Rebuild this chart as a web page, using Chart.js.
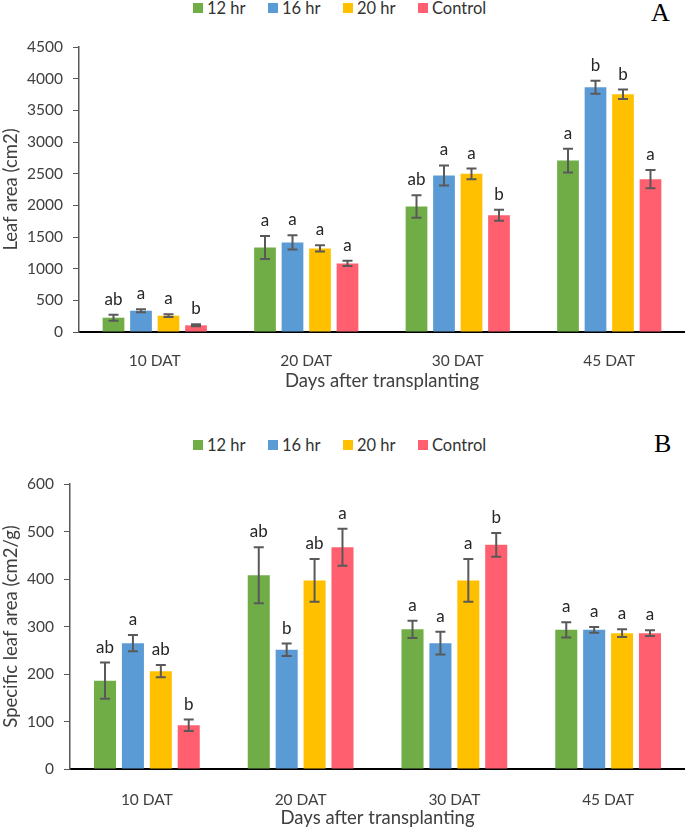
<!DOCTYPE html>
<html lang="en">
<head>
  <meta charset="UTF-8">
  <title>Leaf area and specific leaf area</title>
  <script src="https://cdn.jsdelivr.net/npm/chart.js"></script>
  <style>
    body { margin: 0; background: #fff; font-family: Lato, sans-serif; }
    #page { position: relative; width: 685px; height: 829px; overflow: hidden; }
    .chartBox { position: absolute; left: 0; width: 685px; }
    .legend { position: absolute; left: 0; width: 685px; height: 20px; }
    .legend span { position: absolute; font-size: 16.5px; color: #333; line-height: 20px; }
    .legend i { position: absolute; width: 10px; height: 10px; }
    .panel { position: absolute; font-family: 'Liberation Serif', serif; font-size: 26px; line-height: 26px; color: #000; }
  </style>
</head>
<body>
<div id="page">
  <div class="legend" id="legendA" style="top:-2px"></div>
  <div class="panel" style="left:651px; top:0px">A</div>
  <div class="chartBox" style="top:0; height:394px"><canvas id="chartA"></canvas></div>

  <div class="legend" id="legendB" style="top:435px"></div>
  <div class="panel" style="left:654px; top:431px">B</div>
  <div class="chartBox" style="top:400px; height:429px"><canvas id="chartB"></canvas></div>
</div>

<script>
  // categories and series
  const days = ['10 DAT', '20 DAT', '30 DAT', '45 DAT'];
  const series = ['12 hr', '16 hr', '20 hr', 'Control'];
  const colors = ['#70AD47', '#5B9BD5', '#FFC000', '#FF5F6E'];

  // A: leaf area (cm2)
  const leaf12 = [226, 1335, 1982, 2707];
  const leaf16 = [336, 1414, 2471, 3864];
  const leaf20 = [258, 1320, 2497, 3753];
  const leafCtrl = [105, 1083, 1845, 2413];
  const leafErr12 = [47, 181, 179, 187];
  const leafErr16 = [25, 113, 158, 103];
  const leafErr20 = [21, 50, 84, 74];
  const leafErrCtrl = [16, 42, 87, 145];
  const leafSig12 = ['ab', 'a', 'ab', 'a'];
  const leafSig16 = ['a', 'a', 'a', 'b'];
  const leafSig20 = ['a', 'a', 'a', 'b'];
  const leafSigCtrl = ['b', 'a', 'b', 'a'];

  // B: specific leaf area (cm2/g)
  const sla12 = [186, 408, 294, 293];
  const sla16 = [265, 251, 265, 293];
  const sla20 = [206, 397, 397, 286];
  const slaCtrl = [92, 467, 472, 286];
  const slaErr12 = [38, 59, 18, 16];
  const slaErr16 = [17, 13, 24, 6];
  const slaErr20 = [13, 45, 45, 8];
  const slaErrCtrl = [12, 39, 25, 6];
  const slaSig12 = ['ab', 'ab', 'a', 'a'];
  const slaSig16 = ['a', 'b', 'a', 'a'];
  const slaSig20 = ['ab', 'ab', 'a', 'a'];
  const slaSigCtrl = ['b', 'a', 'b', 'a'];

  function buildLegend(id) {
    const box = document.getElementById(id);
    series.forEach((name, i) => {
      const left = 193 + i * 75;
      const sq = document.createElement('i');
      sq.style.left = left + 'px';
      sq.style.top = '5px';
      sq.style.background = colors[i];
      const txt = document.createElement('span');
      txt.style.left = (left + 14) + 'px';
      txt.style.top = '0px';
      txt.textContent = name;
      box.appendChild(sq);
      box.appendChild(txt);
    });
  }
  buildLegend('legendA');
  buildLegend('legendB');

  // error bars and significance letters drawn on top of the bars
  const errorBarPlugin = {
    id: 'errorBars',
    afterDatasetsDraw(chart) {
      const ctx = chart.ctx;
      const y = chart.scales.y;
      chart.data.datasets.forEach((ds, di) => {
        const meta = chart.getDatasetMeta(di);
        meta.data.forEach((bar, i) => {
          const v = ds.data[i], e = ds.errors[i];
          const yTop = y.getPixelForValue(v + e);
          const yBot = y.getPixelForValue(v - e);
          ctx.save();
          ctx.strokeStyle = '#595959';
          ctx.lineWidth = 2;
          ctx.beginPath();
          ctx.moveTo(bar.x, yTop); ctx.lineTo(bar.x, yBot);
          ctx.moveTo(bar.x - 5, yTop); ctx.lineTo(bar.x + 5, yTop);
          ctx.moveTo(bar.x - 5, yBot); ctx.lineTo(bar.x + 5, yBot);
          ctx.stroke();
          ctx.fillStyle = '#262626';
          ctx.font = '17px Lato';
          ctx.textAlign = 'center';
          ctx.textBaseline = 'alphabetic';
          ctx.fillText(ds.letters[i], bar.x, yTop - 10);
          ctx.restore();
        });
      });
    }
  };

  function makeChart(id, values, errors, letters, yTitle, yMax, step, axisW, axisH, padTop, tickPad, titlePadB) {
    const ctx = document.getElementById(id).getContext('2d');
    return new Chart(ctx, {
      type: 'bar',
      data: {
        labels: days,
        datasets: series.map((name, i) => ({
          label: name,
          data: values[i],
          errors: errors[i],
          letters: letters[i],
          backgroundColor: colors[i],
          categoryPercentage: 0.726,
          barPercentage: 0.79
        }))
      },
      options: {
        responsive: true,
        maintainAspectRatio: false,
        animation: false,
        layout: { padding: { top: padTop, left: 0, right: 0, bottom: 0 } },
        plugins: { legend: { display: false }, tooltip: { enabled: false } },
        scales: {
          x: {
            grid: { display: false },
            border: { display: true, color: '#000', width: 2 },
            ticks: { color: '#404040', font: { family: 'Lato', size: 15.5 }, padding: tickPad },
            title: { display: true, text: 'Days after transplanting', color: '#404040',
                     font: { family: 'Lato', size: 18.5 }, padding: { top: 0, bottom: titlePadB } },
            afterFit: s => { s.height = axisH; }
          },
          y: {
            min: 0, max: yMax,
            grid: { display: true, drawOnChartArea: false, drawTicks: true, tickLength: 6, color: '#595959' },
            border: { display: true, color: '#595959', width: 1.5 },
            ticks: { stepSize: step, color: '#404040', font: { family: 'Lato', size: 15.5 }, padding: 10,
                     callback: v => String(v) },
            title: { display: true, text: yTitle, color: '#404040',
                     font: { family: 'Lato', size: 18.5 }, padding: { top: 0, bottom: 0 } },
            afterFit: s => { s.width = axisW; }
          }
        }
      },
      plugins: [errorBarPlugin]
    });
  }

  makeChart('chartA',
    [leaf12, leaf16, leaf20, leafCtrl],
    [leafErr12, leafErr16, leafErr20, leafErrCtrl],
    [leafSig12, leafSig16, leafSig20, leafSigCtrl],
    'Leaf area (cm2)', 4500, 500, 79, 62, 47, 12, 2);

  makeChart('chartB',
    [sla12, sla16, sla20, slaCtrl],
    [slaErr12, slaErr16, slaErr20, slaErrCtrl],
    [slaSig12, slaSig16, slaSig20, slaSigCtrl],
    'Specific leaf area (cm2/g)', 600, 100, 70, 60, 84, 14, 0);
</script>
</body>
</html>
